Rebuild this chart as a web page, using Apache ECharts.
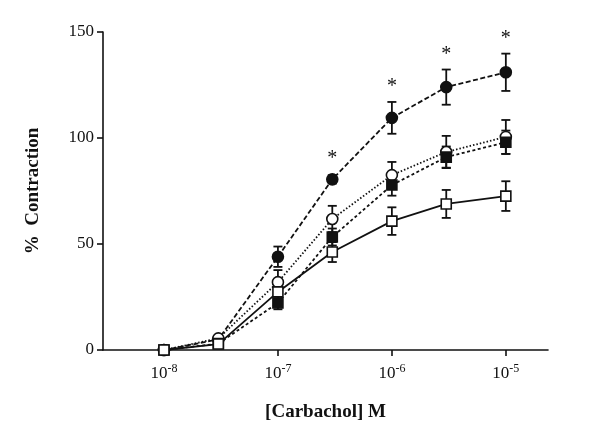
<!DOCTYPE html>
<html><head><meta charset="utf-8">
<script src="https://cdn.jsdelivr.net/npm/echarts@6/dist/echarts.min.js"></script>
<style>html,body{margin:0;padding:0;background:#fff}#c{width:600px;height:443px}</style>
</head><body><div id="c"></div>
<script>
// Carbachol concentrations (M)
const concentrations = [1e-8, 3e-8, 1e-7, 3e-7, 1e-6, 3e-6, 1e-5];
const tickExponents = [-8, -7, -6, -5];
const yTicks = [0, 50, 100, 150];
// % contraction (mean) and SEM per group
const filledCircle = [0, 5, 44, 80.5, 109.5, 124, 131];
const filledCircleErr = [0, 1, 4.8, 2, 7.5, 8.3, 8.8];
const openCircle = [0, 5.5, 32, 61.8, 82.5, 93.4, 100.5];
const openCircleErr = [0, 1, 5.7, 6.2, 6.2, 7.6, 8];
const filledSquare = [0, 3, 22.2, 53.3, 77.8, 91, 98];
const filledSquareErr = [0, 1, 3, 4, 5, 5, 5.5];
const openSquare = [0, 2.8, 27.4, 46.2, 60.8, 68.9, 72.6];
const openSquareErr = [0, 1, 4, 4.7, 6.5, 6.6, 7];
const significant = [0, 0, 0, 1, 1, 1, 1];

const xs = concentrations.map(c => Math.log10(c));
const pts = v => xs.map((x, i) => [x, v[i]]);
const errData = (v, e) => xs.map((x, i) => [x, v[i], e[i]]);
const FONT = '"Liberation Serif", "DejaVu Serif", serif';

function errorBars(v, e) {
  return {
    type: 'custom', silent: true, z: 1,
    renderItem: function (params, api) {
      const x = api.value(0), y = api.value(1), er = api.value(2);
      if (!er) return null;
      const top = api.coord([x, y + er]);
      const bot = api.coord([x, y - er]);
      const w = 4.5;
      const st = { stroke: '#111', lineWidth: 1.8 };
      return { type: 'group', children: [
        { type: 'line', shape: { x1: top[0], y1: top[1], x2: bot[0], y2: bot[1] }, style: st },
        { type: 'line', shape: { x1: top[0] - w, y1: top[1], x2: top[0] + w, y2: top[1] }, style: st },
        { type: 'line', shape: { x1: bot[0] - w, y1: bot[1], x2: bot[0] + w, y2: bot[1] }, style: st }
      ]};
    },
    data: errData(v, e)
  };
}

function lineSeries(v, symbol, fill, dash, size) {
  return {
    type: 'line', data: pts(v), symbol: symbol, symbolSize: size, z: 3,
    lineStyle: { color: '#111', width: 1.8, type: dash },
    itemStyle: { color: fill, borderColor: '#111', borderWidth: 1.6 }
  };
}

const asterisks = {
  type: 'custom', silent: true, z: 4,
  renderItem: function (params, api) {
    const i = params.dataIndex;
    if (!significant[i]) return null;
    const x = api.value(0), y = api.value(1), er = Math.max(api.value(2), 2.5);
    const p = api.coord([x, y + er]);
    return { type: 'text', x: p[0], y: p[1] - 5,
      style: { text: '*', font: '20px ' + FONT, fill: '#111', align: 'center', verticalAlign: 'bottom' } };
  },
  data: errData(filledCircle, filledCircleErr)
};

const chart = echarts.init(document.getElementById('c'));
chart.setOption({
  animation: false,
  backgroundColor: '#fff',
  grid: { left: 103, right: 52, top: 32, bottom: 93 },
  xAxis: {
    type: 'value', min: -8.535, max: -4.63,
    name: '[Carbachol] M', nameLocation: 'middle', nameGap: 53,
    nameTextStyle: { fontFamily: FONT, fontWeight: 'bold', fontSize: 19, color: '#111' },
    axisLine: { lineStyle: { color: '#111', width: 1.6 } },
    axisTick: { show: true, length: 6, lineStyle: { color: '#111', width: 1.6 }, customValues: tickExponents },
    axisLabel: {
      customValues: tickExponents, margin: 13,
      formatter: v => '{b|10}{s|' + Math.round(v) + '}',
      rich: {
        b: { fontFamily: FONT, fontSize: 17, color: '#111' },
        s: { fontFamily: FONT, fontSize: 12, color: '#111', padding: [0, 0, 10, 0] }
      }
    },
    splitLine: { show: false }
  },
  yAxis: {
    type: 'value', min: 0, max: 150, interval: 50,
    name: '%  Contraction', nameLocation: 'middle', nameGap: 60, nameRotate: 90,
    nameTextStyle: { fontFamily: FONT, fontWeight: 'bold', fontSize: 19, color: '#111' },
    axisLine: { show: true, lineStyle: { color: '#111', width: 1.6 } },
    axisTick: { show: true, length: 6, lineStyle: { color: '#111', width: 1.6 } },
    axisLabel: { fontFamily: FONT, fontSize: 17, color: '#111', margin: 9, formatter: v => yTicks.includes(v) ? String(v) : '' },
    splitLine: { show: false }
  },
  series: [
    errorBars(filledCircle, filledCircleErr),
    errorBars(openCircle, openCircleErr),
    errorBars(filledSquare, filledSquareErr),
    errorBars(openSquare, openSquareErr),
    lineSeries(filledCircle, 'circle', '#111', [5, 2.5], 11),
    lineSeries(openCircle, 'circle', '#fff', [1.5, 2], 11),
    lineSeries(filledSquare, 'rect', '#111', [3, 2.5], 10),
    lineSeries(openSquare, 'rect', '#fff', 'solid', 10),
    asterisks
  ]
});
</script></body></html>
